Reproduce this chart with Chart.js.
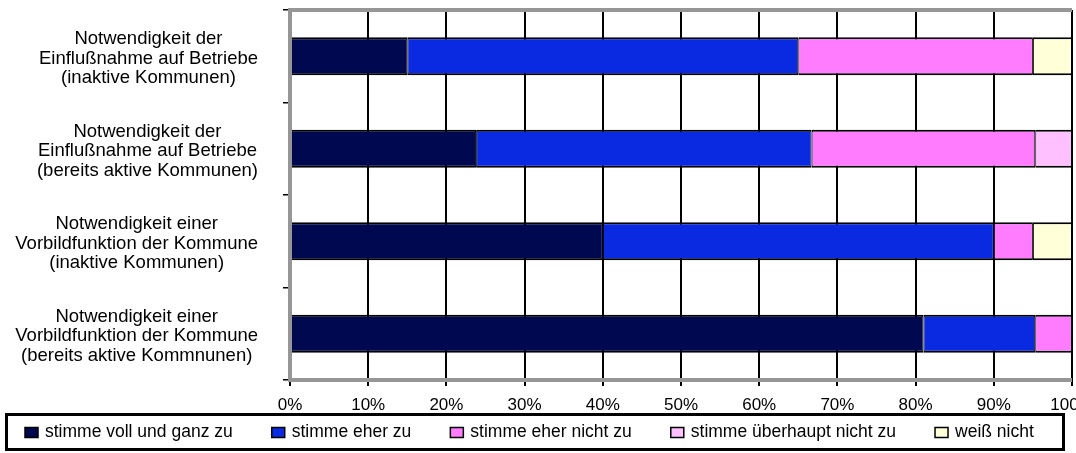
<!DOCTYPE html>
<html><head><meta charset="utf-8">
<script src="https://cdn.jsdelivr.net/npm/chart.js@4"></script>
<style>html,body{margin:0;padding:0;background:#fff}</style>
</head><body>
<canvas id="c" width="1076" height="453"></canvas>
<script>
const categories = [
  ["Notwendigkeit der", "Einflußnahme auf Betriebe", "(inaktive Kommunen)"],
  ["Notwendigkeit der", "Einflußnahme auf Betriebe", "(bereits aktive Kommunen)"],
  ["Notwendigkeit einer", "Vorbildfunktion der Kommune", "(inaktive Kommunen)"],
  ["Notwendigkeit einer", "Vorbildfunktion der Kommune", "(bereits aktive Kommnunen)"]
];
const seriesNames = ["stimme voll und ganz zu", "stimme eher zu", "stimme eher nicht zu", "stimme überhaupt nicht zu", "weiß nicht"];
const stimmeVoll = [15, 23.8, 40, 81];
const stimmeEher = [50, 42.9, 50, 14.3];
const stimmeEherNicht = [30, 28.6, 5, 4.7];
const stimmeUeberhauptNicht = [null, 4.7, null, null];
const weissNicht = [5, null, 5, null];
const xTickValues = [0, 10, 20, 30, 40, 50, 60, 70, 80, 90, 100];
const seriesColors = ["#000850", "#0A2AE2", "#FF7BFF", "#FFC0FF", "#FFFFD8"];

const FONT = '"Liberation Sans", Arial, sans-serif';
Chart.defaults.color = '#000';
Chart.defaults.font.family = FONT;

const seriesValues = [stimmeVoll, stimmeEher, stimmeEherNicht, stimmeUeberhauptNicht, weissNicht];

const decorPlugin = {
  id: 'decor',
  afterDraw(chart) {
    const ctx = chart.ctx;
    const ca = chart.chartArea;
    const ys = chart.scales.y;
    ctx.save();
    // gray plot frame (left, top, bottom)
    ctx.strokeStyle = '#969696';
    ctx.lineWidth = 4;
    ctx.beginPath();
    ctx.moveTo(ca.right, ca.top); ctx.lineTo(ca.left, ca.top);
    ctx.lineTo(ca.left, ca.bottom); ctx.lineTo(ca.right, ca.bottom);
    ctx.stroke();
    // category labels: blocks right-aligned, lines centered
    ctx.font = '18.5px ' + FONT;
    ctx.fillStyle = '#000';
    ctx.textAlign = 'center';
    ctx.textBaseline = 'middle';
    const lh = 19.5;
    chart.data.labels.forEach((lines, i) => {
      const cy = ys.getPixelForValue(i) + 2.5;
      const w = Math.max(...lines.map(l => ctx.measureText(l).width));
      const cx = ca.left - 32 - w / 2;
      lines.forEach((l, j) => ctx.fillText(l, cx, cy + (j - (lines.length - 1) / 2) * lh));
    });
    // legend
    ctx.lineWidth = 3;
    ctx.strokeStyle = '#000';
    ctx.strokeRect(6.5, 414.5, 1057, 35);
    ctx.font = '17.5px ' + FONT;
    ctx.textAlign = 'left';
    let x = 25; const y = 432;
    chart.data.datasets.forEach(ds => {
      ctx.fillStyle = ds.backgroundColor;
      ctx.fillRect(x, y - 4.5, 13, 10);
      ctx.lineWidth = 1.5;
      ctx.strokeRect(x, y - 4.5, 13, 10);
      ctx.fillStyle = '#000';
      ctx.fillText(ds.label, x + 20, y);
      x += 20 + ctx.measureText(ds.label).width + 39;
    });
    ctx.restore();
  }
};

new Chart(document.getElementById('c'), {
  type: 'bar',
  data: {
    labels: categories,
    datasets: seriesNames.map((n, k) => ({
      label: n,
      data: seriesValues[k],
      backgroundColor: seriesColors[k],
      borderColor: '#000',
      borderWidth: {top: 2, bottom: 2, left: 1, right: 1},
      borderSkipped: false,
      barPercentage: 0.41,
      categoryPercentage: 1
    }))
  },
  options: {
    indexAxis: 'y',
    responsive: false,
    animation: false,
    devicePixelRatio: 1,
    layout: {autoPadding: false, padding: {left: 0, right: 4, top: 10, bottom: 40.5}},
    plugins: {legend: {display: false}, tooltip: {enabled: false}},
    scales: {
      x: {
        stacked: true, min: 0, max: 100, z: 1,
        afterBuildTicks(scale) { scale.ticks = xTickValues.map(v => ({value: v})); },
        afterFit(scale) { scale.height = 32.5; scale.paddingLeft = 0; scale.paddingRight = 0; },
        ticks: {callback: v => v + '%', font: {size: 17}, padding: 9, color: '#000', maxRotation: 0, autoSkip: false},
        grid: {color: '#000', lineWidth: 2, tickLength: 6, drawTicks: true},
        border: {display: false}
      },
      y: {
        stacked: true,
        afterFit(scale) { scale.width = 290; scale.paddingTop = 0; scale.paddingBottom = 0; },
        ticks: {display: false},
        grid: {drawOnChartArea: false, drawTicks: true, tickLength: 7, color: '#000', lineWidth: 1.5},
        border: {display: false}
      }
    }
  },
  plugins: [decorPlugin]
});
</script>
</body></html>
